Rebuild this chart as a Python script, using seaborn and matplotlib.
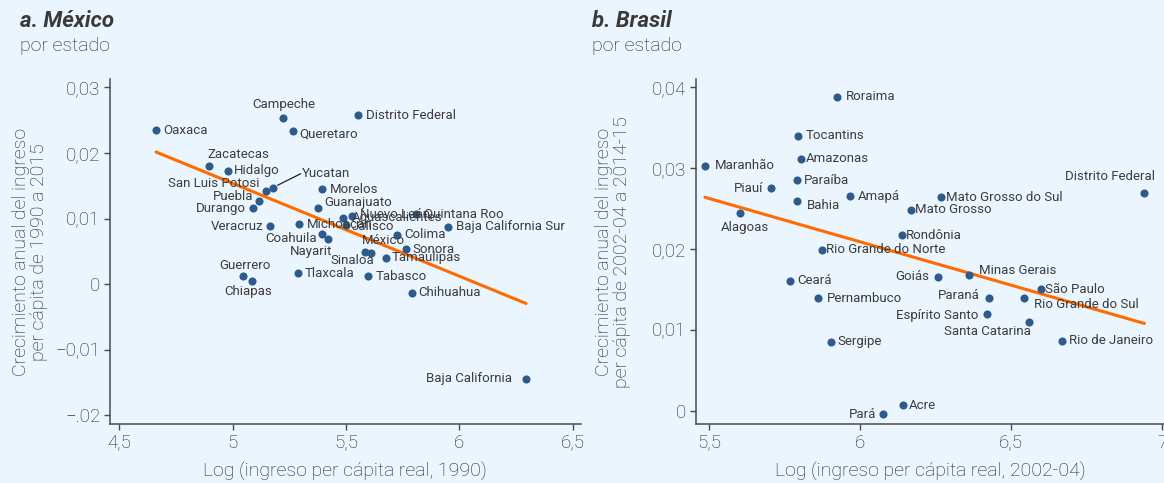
import matplotlib
matplotlib.use("Agg")
import matplotlib.pyplot as plt
import seaborn as sns
import pandas as pd

# --- Panel a: Mexico, by state -------------------------------------------
mx_states = [
    "Oaxaca", "Campeche", "Queretaro", "Distrito Federal", "Zacatecas",
    "Hidalgo", "San Luis Potosi", "Yucatan", "Puebla", "Durango",
    "Veracruz", "Michoacán", "Morelos", "Guanajuato", "Coahuila",
    "Nayarit", "Aguascalientes", "Nuevo León", "Jalisco", "Quintana Roo",
    "Baja California Sur", "Colima", "México", "Sinaloa", "Sonora",
    "Tamaulipas", "Tlaxcala", "Tabasco", "Chihuahua", "Guerrero",
    "Chiapas", "Baja California",
]
mx_log_income_1990 = [
    4.662, 5.224, 5.268, 5.555, 4.896,
    4.978, 5.147, 5.177, 5.117, 5.091,
    5.165, 5.293, 5.393, 5.378, 5.393,
    5.420, 5.489, 5.526, 5.500, 5.808,
    5.949, 5.724, 5.584, 5.609, 5.764,
    5.676, 5.290, 5.596, 5.793, 5.047,
    5.084, 6.295,
]
mx_growth_1990_2015 = [
    0.02351, 0.0254, 0.02336, 0.0258, 0.01806,
    0.0173, 0.01424, 0.0147, 0.01272, 0.0116,
    0.00885, 0.00911, 0.0145, 0.01156, 0.00763,
    0.00687, 0.01012, 0.01038, 0.0090, 0.01064,
    0.00875, 0.00753, 0.00493, 0.00469, 0.0053,
    0.00402, 0.00163, 0.00118, -0.00133, 0.00122,
    0.00046, -0.0145,
]
mx_xticks = [4.5, 5, 5.5, 6, 6.5]
mx_xticklabels = ["4,5", "5", "5,5", "6", "6,5"]
mx_yticks = [-0.02, -0.01, 0, 0.01, 0.02, 0.03]
mx_yticklabels = ["\u2212.02", "\u22120,01", "0", "0,01", "0,02", "0,03"]

# --- Panel b: Brazil, by state -------------------------------------------
br_states = [
    "Roraima", "Tocantins", "Amazonas", "Maranhão", "Piauí", "Paraíba",
    "Bahia", "Amapá", "Alagoas", "Mato Grosso do Sul", "Mato Grosso",
    "Distrito Federal", "Rondônia", "Rio Grande do Norte", "Ceará", "Goiás",
    "Minas Gerais", "Pernambuco", "Paraná", "Rio Grande do Sul", "São Paulo",
    "Espírito Santo", "Santa Catarina", "Sergipe", "Rio de Janeiro", "Pará",
    "Acre",
]
br_log_income_2002_04 = [
    5.924, 5.795, 5.803, 5.486, 5.705, 5.790,
    5.790, 5.966, 5.602, 6.268, 6.167,
    6.941, 6.139, 5.872, 5.769, 6.257,
    6.359, 5.859, 6.425, 6.543, 6.598,
    6.420, 6.560, 5.903, 6.669, 6.077,
    6.141,
]
br_growth_2002_2015 = [
    0.03886, 0.03399, 0.03118, 0.03028, 0.02752, 0.02854,
    0.02594, 0.02656, 0.02442, 0.0264, 0.02483,
    0.0269, 0.02173, 0.01988, 0.01607, 0.01657,
    0.01678, 0.01389, 0.01397, 0.01397, 0.01501,
    0.01199, 0.01096, 0.00852, 0.00861, -0.00047,
    0.00064,
]
br_xticks = [5.5, 6, 6.5, 7]
br_xticklabels = ["5,5", "6", "6,5", "7"]
br_yticks = [0, 0.01, 0.02, 0.03, 0.04]
br_yticklabels = ["0", "0,01", "0,02", "0,03", "0,04"]

# --- label placement: (dx px, dy px, horizontal alignment) ---------------
mx_label_pos = {
    "Oaxaca": (7, 0, "left"), "Campeche": (0, 13, "center"),
    "Queretaro": (6, -3, "left"), "Distrito Federal": (8, 0, "left"),
    "Zacatecas": (-2, 11, "left"), "Hidalgo": (6, 0, "left"),
    "San Luis Potosi": (-6, 7, "right"), "Yucatan": (29, 14, "left"),
    "Puebla": (-6, 4, "right"), "Durango": (-7, 0, "right"),
    "Veracruz": (-7, 0, "right"), "Michoacán": (8, 0, "left"),
    "Morelos": (8, 0, "left"), "Guanajuato": (6, 6, "left"),
    "Coahuila": (-5, -4, "right"), "Nayarit": (4, -12, "right"),
    "Aguascalientes": (8, 0, "left"), "Nuevo León": (8, 2, "left"),
    "Jalisco": (6, -1, "left"), "Quintana Roo": (8, 0, "left"),
    "Baja California Sur": (8, 0, "left"), "Colima": (8, 0, "left"),
    "México": (-3, 11, "left"), "Sinaloa": (4, -7, "right"),
    "Sonora": (7, 0, "left"), "Tamaulipas": (6, 0, "left"),
    "Tlaxcala": (6, 0, "left"), "Tabasco": (8, 0, "left"),
    "Chihuahua": (6, 0, "left"), "Guerrero": (2, 11, "center"),
    "Chiapas": (-4, -11, "center"), "Baja California": (-14, 0, "right"),
}
br_label_pos = {
    "Roraima": (9, 0, "left"), "Tocantins": (7, 0, "left"),
    "Amazonas": (5, 0, "left"), "Maranhão": (10, 0, "left"),
    "Piauí": (-8, 0, "right"), "Paraíba": (7, 0, "left"),
    "Bahia": (10, -4, "left"), "Amapá": (8, 0, "left"),
    "Alagoas": (5, -14, "center"), "Mato Grosso do Sul": (5, 0, "left"),
    "Mato Grosso": (4, 0, "left"), "Distrito Federal": (11, 17, "right"),
    "Rondônia": (4, 0, "left"), "Rio Grande do Norte": (4, 0, "left"),
    "Ceará": (7, 0, "left"), "Goiás": (-9, 0, "right"),
    "Minas Gerais": (10, 4, "left"), "Pernambuco": (9, 0, "left"),
    "Paraná": (-9, 2, "right"), "Rio Grande do Sul": (10, -7, "left"),
    "São Paulo": (4, 0, "left"), "Espírito Santo": (-9, -2, "right"),
    "Santa Catarina": (2, -10, "right"), "Sergipe": (7, 0, "left"),
    "Rio de Janeiro": (7, 0, "left"), "Pará": (-7, 0, "right"),
    "Acre": (6, 0, "left"),
}

BG = "#EBF5FE"
DOT = "#2E5A8C"
LINE = "#FF6B00"
TXT = "#222222"
AX = "#4A4A4A"

sns.set_theme(style="ticks")
plt.rcParams["font.family"] = ["Roboto", "DejaVu Sans"]

fig = plt.figure(figsize=(11.64, 4.83), dpi=100, facecolor=BG)
W, H = 1164, 483
AX_TOP, AX_BOT = 79.3, 424
ax_a = fig.add_axes([110 / W, 1 - AX_BOT / H, (580.7 - 110) / W, (AX_BOT - AX_TOP) / H])
ax_b = fig.add_axes([695.7 / W, 1 - AX_BOT / H, (1164 - 695.7) / W, (AX_BOT - AX_TOP) / H])

mx = pd.DataFrame({"state": mx_states, "x": mx_log_income_1990, "y": mx_growth_1990_2015})
br = pd.DataFrame({"state": br_states, "x": br_log_income_2002_04, "y": br_growth_2002_2015})


def draw_panel(ax, df, label_pos, xlim, ylim, xticks, xticklabels, yticks,
               yticklabels, xlabel, ylabel, ylabel_right_px):
    ax.set_facecolor(BG)
    sns.regplot(data=df, x="x", y="y", ax=ax, scatter=False, ci=None,
                color=LINE, line_kws={"lw": 2.2, "zorder": 2})
    sns.scatterplot(data=df, x="x", y="y", ax=ax, color=DOT, s=34,
                    linewidth=0, zorder=3)
    for name, xv, yv in zip(df["state"], df["x"], df["y"]):
        dx, dy, ha = label_pos[name]
        ax.annotate(name, (xv, yv), xytext=(dx, dy), textcoords="offset pixels",
                    ha=ha, va="center", fontsize=9.5, color="#3C3C3C", zorder=4)
    ax.set_xlim(*xlim)
    ax.set_ylim(*ylim)
    ax.set_xticks(xticks)
    ax.set_xticklabels(xticklabels)
    ax.set_yticks(yticks)
    ax.set_yticklabels(yticklabels)
    ax.tick_params(axis="both", length=4, width=1, color=AX, labelcolor=TXT,
                   labelsize=13.5, pad=3)
    for lbl in ax.get_xticklabels() + ax.get_yticklabels():
        lbl.set_fontweight("light")
    for side in ("top", "right"):
        ax.spines[side].set_visible(False)
    for side in ("left", "bottom"):
        ax.spines[side].set_color(AX)
        ax.spines[side].set_linewidth(1.1)
    ax.set_xlabel(xlabel, fontsize=14, color=TXT, fontweight="light")
    ax.set_ylabel(ylabel, fontsize=14, color=TXT, fontweight="light",
                  linespacing=1.0)
    # place axis titles at fixed pixel distances from the spines
    bbox = ax.get_position()
    ax_w_px = bbox.width * W
    ax_h_px = bbox.height * H
    ax.xaxis.set_label_coords(0.5, -(462 - AX_BOT) / ax_h_px)
    ax.yaxis.set_label_coords(-(bbox.x0 * W - ylabel_right_px) / ax_w_px, 0.5)


draw_panel(ax_a, mx, mx_label_pos, (4.459, 6.536), (-0.02137, 0.03125),
           mx_xticks, mx_xticklabels, mx_yticks, mx_yticklabels,
           "Log (ingreso per cápita real, 1990)",
           "Crecimiento anual del ingreso\nper cápita de 1990 a 2015", 48)
draw_panel(ax_b, br, br_label_pos, (5.4553, 7.006), (-0.00167, 0.04101),
           br_xticks, br_xticklabels, br_yticks, br_yticklabels,
           "Log (ingreso per cápita real, 2002-04)",
           "Crecimiento anual del ingreso\nper cápita de 2002-04 a 2014-15", 631)

# leader line for the Yucatan label
yuc = mx[mx["state"] == "Yucatan"].iloc[0]
ax_a.annotate("", (yuc["x"], yuc["y"]), xytext=(28, 14), textcoords="offset pixels",
              arrowprops=dict(arrowstyle="-", color="#222222", lw=0.9,
                              shrinkA=0, shrinkB=4))

# panel titles
for x0, title in ((20, "a. México"), (592, "b. Brasil")):
    fig.text(x0 / W, 1 - 21 / H, title, fontsize=16, fontweight="bold",
             fontstyle="italic", color="#3A3A3A", va="center", ha="left")
    fig.text(x0 / W, 1 - 46 / H, "por estado", fontsize=14, fontweight="light",
             color=TXT, va="center", ha="left")

fig.savefig("out.png", dpi=100, facecolor=BG)
